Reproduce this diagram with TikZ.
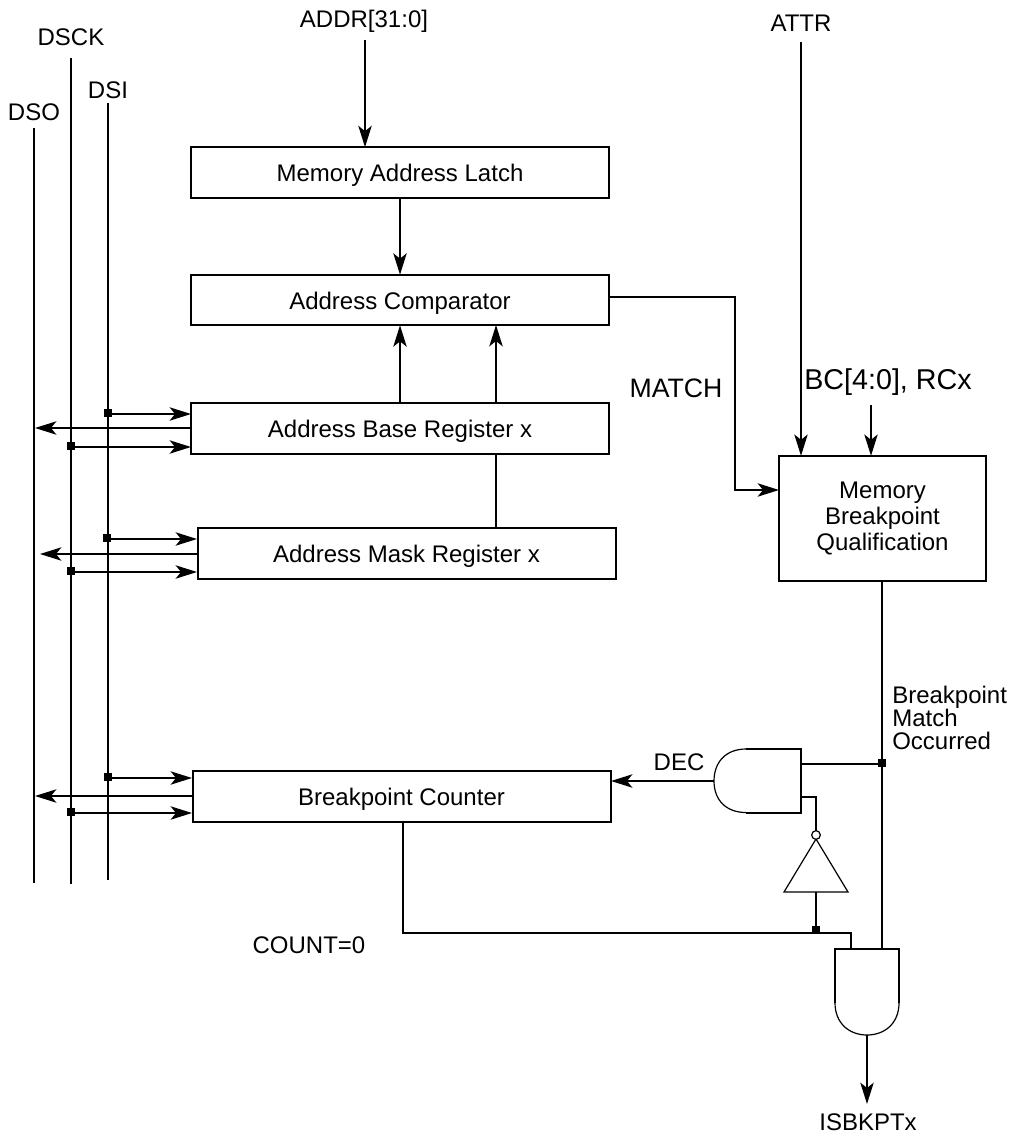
\documentclass[tikz,border=0pt]{standalone}
\usepackage{fontspec}
\setmainfont{Liberation Sans}
\usetikzlibrary{arrows.meta}
\tikzset{
  wire/.style={line width=1.5pt,draw=black},
  arr/.style={wire,-{Stealth[length=16pt,width=10pt,inset=4pt]}},
  thin gate/.style={line width=0.9pt,draw=black},
  regbox/.style={draw=black,line width=1.5pt,minimum width=313.5pt,minimum height=38pt,inner sep=0pt,outer sep=0pt,text height=15pt,text depth=1pt,font=\fontsize{18}{21}\selectfont},
  lbl/.style={inner sep=0pt,font=\fontsize{18}{21}\selectfont},
  matchlbl/.style={inner sep=0pt,font=\fontsize{20}{24}\selectfont},
  bclbl/.style={inner sep=0pt,font=\fontsize{21.5}{25}\selectfont},
  dot/.style={fill=black,draw=none,minimum size=5.5pt,inner sep=0pt,outer sep=0pt,rectangle}
}
\begin{document}
\begin{tikzpicture}[x=0.75pt,y=-0.75pt]
\useasboundingbox (0,0) rectangle (1011,1141);
% boxes
\node[regbox] (latch) at (400,172.5) {Memory Address Latch};
\node[regbox] (comp) at (400,300) {Address Comparator};
\node[regbox] (base) at (400,428.5) {Address Base Register x};
\node[regbox] (mask) at (406.5,553.5) {Address Mask Register x};
\node[regbox] (counter) at (401.5,796.5) {Breakpoint Counter};
\node[draw=black,line width=1.5pt,minimum width=155pt,minimum height=94pt,inner sep=0pt,outer sep=0pt,align=center,font=\fontsize{18}{19.6}\selectfont] (qual) at (882.5,518.5) {Memory\\Breakpoint\\Qualification};
% labels
\node[lbl] (addrL) at (364,21) {ADDR[31:0]};
\node[lbl] (attrL) at (801,23) {ATTR};
\node[lbl] (dsckL) at (71,37) {DSCK};
\node[lbl] (dsiL) at (108,90) {DSI};
\node[lbl] (dsoL) at (34,112) {DSO};
\node[bclbl] (bcL) at (888,382) {BC[4:0], RCx};
\node[matchlbl] (matchL) at (676,388) {MATCH};
\node[lbl,align=left,anchor=west,font=\fontsize{18}{17.3}\selectfont] (bpL) at (892,718) {Breakpoint\\Match\\Occurred};
\node[lbl] (decL) at (679,762) {DEC};
\node[lbl] (countL) at (309,945) {COUNT=0};
\node[lbl] (isbL) at (868,1122) {ISBKPTx};
% bus lines
\coordinate (dsoT) at (34,128); \coordinate (dsoB) at (34,883);
\coordinate (dsckT) at (71,58); \coordinate (dsckB) at (71,884);
\coordinate (dsiT) at (108,103); \coordinate (dsiB) at (108,880);
\draw[wire] (dsoT) -- (dsoB);
\draw[wire] (dsckT) -- (dsckB);
\draw[wire] (dsiT) -- (dsiB);
% register side connections
\foreach \nm/\by/\ya/\yb/\yc/\endx/\xl in {base/191/414/428/447/35/108,mask/197/539/554/572/40/107,counter/192/778/796/813/35/108}{
  \node[dot] (\nm si) at (\xl,\ya-1) {};
  \node[dot] (\nm sck) at (71,\yc-1) {};
  \coordinate (\nm a) at (\by,\ya);
  \coordinate (\nm b) at (\by,\yb);
  \coordinate (\nm c) at (\by,\yc);
  \coordinate (\nm e) at (\endx,\yb);
  \draw[arr] (\xl,\ya) -- (\nm a);
  \draw[arr] (\nm b) -- (\nm e);
  \draw[arr] (71,\yc) -- (\nm c);
}
% top signals
\coordinate (addrT) at (365,40);
\draw[arr] (addrT) -- (addrT |- latch.north);
\draw[arr] (latch.south) -- (comp.north);
\draw[arr] (base.north) -- (comp.south);
\coordinate (b2) at (496,403); \coordinate (c2) at (496,325);
\draw[arr] (b2) -- (c2);
\coordinate (m2) at (496,528); \coordinate (b3) at (496,454);
\draw[wire] (m2) -- (b3);
\coordinate (cmpo) at (609,297); \coordinate (qin) at (779,490);
\draw[arr] (cmpo) -- (735,297) -- (735,490) -- (qin);
\coordinate (attrT) at (801,42);
\draw[arr] (attrT) -- (attrT |- qual.north);
\coordinate (bcT) at (871,405);
\draw[arr] (bcT) -- (bcT |- qual.north);
% gates
\draw[wire] (746,749) -- (801,749) -- (801,812.5) -- (746,812.5);
\draw[thin gate] (746,749) .. controls (726,749) and (714,762) .. (714,781) .. controls (714,800) and (726,812.5) .. (746,812.5);
\coordinate (g1out) at (714,781);
\coordinate (g1a) at (801,764);
\coordinate (g1b) at (801,797);
\draw[wire] (835,1003) -- (835,949) -- (899,949) -- (899,1003);
\draw[thin gate] (835,1003) .. controls (835,1023) and (849,1035) .. (867,1035) .. controls (885,1035) and (899,1023) .. (899,1003);
\coordinate (g2out) at (867,1035);
\coordinate (isbE) at (867,1104);
\coordinate (g2a) at (851,949);
\coordinate (g2b) at (882,949);
\draw[thin gate] (816,839) -- (784,892) -- (848,892) -- cycle;
\node[circle,draw=black,line width=0.9pt,fill=white,minimum size=6.5pt,inner sep=0pt,outer sep=0pt] (bub) at (816,835) {};
% connections
\node[dot] (jm) at (882,763) {};
\node[dot] (jc) at (816,930) {};
\draw[wire] (qual.south -| g2b) -- (g2b);
\draw[wire] (g1a) -- (882,764);
\draw[wire] (g1b) -- (816,797) -- (bub.north);
\draw[wire] (816,892) -- (jc);
\draw[wire] (403,822) -- (403,933) -- (851,933) -- (g2a);
\draw[arr] (g1out) -- (611,781);
\draw[arr] (g2out) -- (isbE);
\end{tikzpicture}
\end{document}
